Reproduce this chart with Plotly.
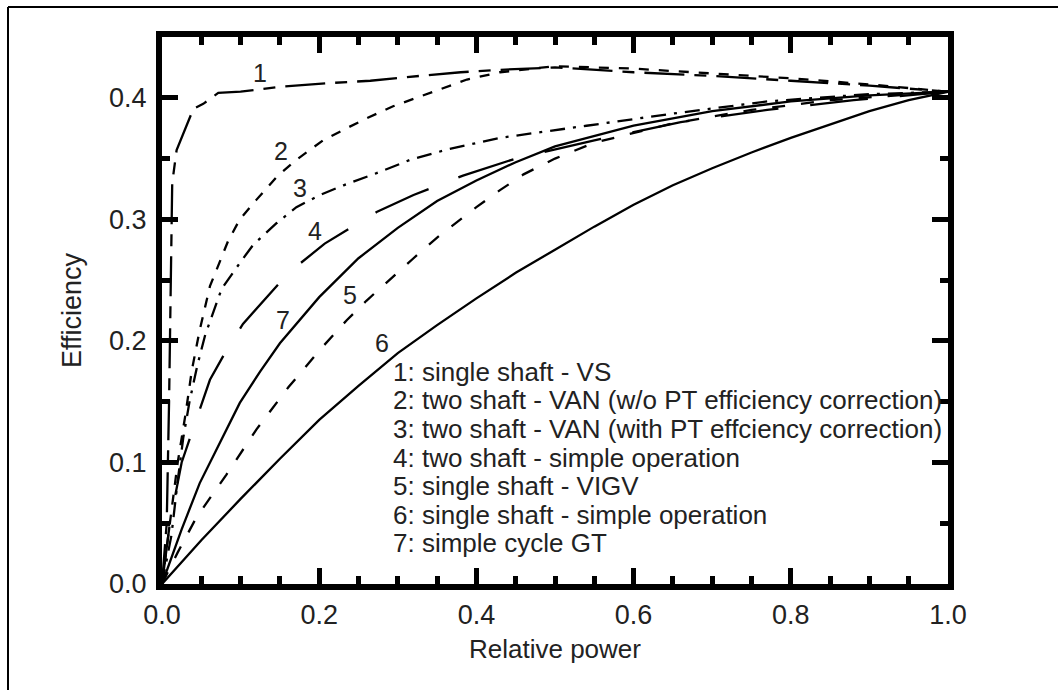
import plotly.graph_objects as go

# ---- data ----
c1_x = [0, 0.006, 0.009, 0.011, 0.013, 0.0186, 0.04, 0.0525, 0.0716, 0.1, 0.15, 0.21, 0.265, 0.328, 0.38, 0.43, 0.5, 0.6, 0.7, 0.8, 0.9, 1.0]
c1_y = [0, 0.05, 0.15, 0.25, 0.33, 0.357, 0.391, 0.395, 0.404, 0.405, 0.409, 0.412, 0.414, 0.418, 0.421, 0.423, 0.425, 0.421, 0.418, 0.414, 0.41, 0.405]

c2_x = [0, 0.01, 0.02, 0.03, 0.038, 0.048, 0.061, 0.084, 0.099, 0.12, 0.146, 0.171, 0.205, 0.235, 0.26, 0.294, 0.324, 0.388, 0.43, 0.5, 0.6, 0.7, 0.8, 0.9, 1.0]
c2_y = [0, 0.05, 0.1, 0.14, 0.176, 0.209, 0.245, 0.282, 0.3, 0.316, 0.335, 0.349, 0.365, 0.375, 0.383, 0.393, 0.4, 0.415, 0.421, 0.426, 0.424, 0.42, 0.416, 0.411, 0.405]

c3_x = [0, 0.012, 0.02, 0.027, 0.035, 0.045, 0.055, 0.076, 0.1, 0.116, 0.146, 0.171, 0.201, 0.231, 0.273, 0.316, 0.366, 0.43, 0.54, 0.65, 0.77, 0.9, 1.0]
c3_y = [0, 0.04, 0.085, 0.12, 0.15, 0.18, 0.205, 0.243, 0.265, 0.279, 0.297, 0.31, 0.32, 0.328, 0.338, 0.349, 0.358, 0.367, 0.377, 0.387, 0.397, 0.403, 0.405]

c4_x = [0, 0.01, 0.025, 0.046, 0.061, 0.08, 0.103, 0.161, 0.207, 0.273, 0.32, 0.383, 0.45, 0.55, 0.66, 0.77, 0.88, 1.0]
c4_y = [0, 0.05, 0.1, 0.14, 0.168, 0.19, 0.214, 0.256, 0.28, 0.306, 0.32, 0.336, 0.35, 0.365, 0.38, 0.39, 0.398, 0.405]

c5_x = [0, 0.02, 0.044, 0.082, 0.12, 0.161, 0.2, 0.235, 0.26, 0.294, 0.32, 0.35, 0.4, 0.43, 0.46, 0.5, 0.55, 0.65, 0.75, 0.85, 1.0]
c5_y = [0, 0.026, 0.055, 0.09, 0.127, 0.162, 0.192, 0.217, 0.233, 0.253, 0.268, 0.285, 0.31, 0.324, 0.337, 0.35, 0.363, 0.379, 0.39, 0.398, 0.405]

c6_x = [0, 0.05, 0.1, 0.15, 0.2, 0.25, 0.3, 0.35, 0.4, 0.45, 0.5, 0.55, 0.6, 0.65, 0.7, 0.75, 0.8, 0.85, 0.9, 0.95, 1.0]
c6_y = [0, 0.036, 0.07, 0.103, 0.135, 0.163, 0.19, 0.213, 0.235, 0.256, 0.275, 0.294, 0.312, 0.328, 0.342, 0.355, 0.367, 0.378, 0.389, 0.398, 0.405]

c7_x = [0, 0.025, 0.048, 0.075, 0.099, 0.125, 0.15, 0.2, 0.25, 0.3, 0.35, 0.4, 0.45, 0.5, 0.6, 0.7, 0.8, 0.9, 1.0]
c7_y = [0, 0.045, 0.083, 0.118, 0.149, 0.175, 0.198, 0.236, 0.268, 0.293, 0.315, 0.332, 0.347, 0.36, 0.377, 0.389, 0.397, 0.402, 0.405]

curve_labels = ["1", "2", "3", "4", "5", "6", "7"]
label_x = [0.125, 0.152, 0.176, 0.195, 0.239, 0.28, 0.154]
label_y = [0.42, 0.356, 0.3255, 0.29, 0.238, 0.198, 0.217]

legend_lines = [
    "1: single shaft - VS",
    "2: two shaft - VAN (w/o PT efficiency correction)",
    "3: two shaft - VAN (with PT effciency correction)",
    "4: two shaft - simple operation",
    "5: single shaft - VIGV",
    "6: single shaft - simple operation",
    "7: simple cycle GT",
]

x_ticks = [0.0, 0.2, 0.4, 0.6, 0.8, 1.0]
y_ticks = [0.0, 0.1, 0.2, 0.3, 0.4]

# ---- figure ----
W, H = 1058, 690
L, R, T, B = 162, 110, 37, 106
pw, ph = W - L - R, H - T - B

dashes = ["40px,10px,12px,10px", "10px,10px", "15px,8px,3px,8px", "58px,32px", "13px,16px", "solid", "solid"]
xs = [c1_x, c2_x, c3_x, c4_x, c5_x, c6_x, c7_x]
ys = [c1_y, c2_y, c3_y, c4_y, c5_y, c6_y, c7_y]

fig = go.Figure()
for i in range(7):
    fig.add_trace(go.Scatter(x=xs[i], y=ys[i], mode="lines",
                             line=dict(color="black", width=2.3, dash=dashes[i]),
                             showlegend=False, hoverinfo="skip"))

font_main = "Liberation Sans, Arial, sans-serif"
for t, x, y in zip(curve_labels, label_x, label_y):
    fig.add_annotation(x=x, y=y, text=t, showarrow=False, font=dict(size=25, color="#222", family=font_main),
                       xanchor="center", yanchor="middle")

for k, line in enumerate(legend_lines):
    ypx = 372 + k * 28.5
    fig.add_annotation(xref="paper", yref="paper", x=(391 - L) / pw, y=(H - B - ypx) / ph, text=line,
                       showarrow=False, xanchor="left", yanchor="middle",
                       font=dict(size=26, color="#222", family=font_main))

# outer frame (left and top edges visible)
fig.add_shape(type="line", xref="paper", yref="paper", x0=(8 - L) / pw, x1=(W + 5 - L) / pw,
              y0=(H - B - 7) / ph, y1=(H - B - 7) / ph, line=dict(color="black", width=2))
fig.add_shape(type="line", xref="paper", yref="paper", x0=(8 - L) / pw, x1=(8 - L) / pw,
              y0=(H - B - 7) / ph, y1=(H - B - H - 5) / ph, line=dict(color="black", width=2))

axis_common = dict(showgrid=False, zeroline=False, showline=True, linecolor="black", linewidth=6,
                   mirror="ticks", ticks="inside", ticklen=16, tickwidth=5, tickcolor="black",
                   tickfont=dict(size=27, color="#222", family=font_main))
fig.update_xaxes(range=[0, 1.0], tickvals=x_ticks, ticktext=[f"{v:.1f}" for v in x_ticks],
                 ticklabelstandoff=2,
                 minor=dict(dtick=0.05, tick0=0, ticks="inside", ticklen=8, tickwidth=5, tickcolor="black"),
                 title=dict(text="Relative power", font=dict(size=26, color="#222", family=font_main), standoff=12),
                 **axis_common)
fig.update_yaxes(range=[0, 0.45], tickvals=y_ticks, ticktext=[f"{v:.1f}" for v in y_ticks],
                 ticklabelstandoff=4,
                 minor=dict(dtick=0.05, tick0=0, ticks="inside", ticklen=8, tickwidth=5, tickcolor="black"),
                 title=dict(text="Efficiency", font=dict(size=27, color="#222", family=font_main), standoff=22),
                 **axis_common)
fig.update_layout(width=W, height=H, margin=dict(l=L, r=R, t=T, b=B), paper_bgcolor="white",
                  plot_bgcolor="white")
fig.write_html("out.html")
